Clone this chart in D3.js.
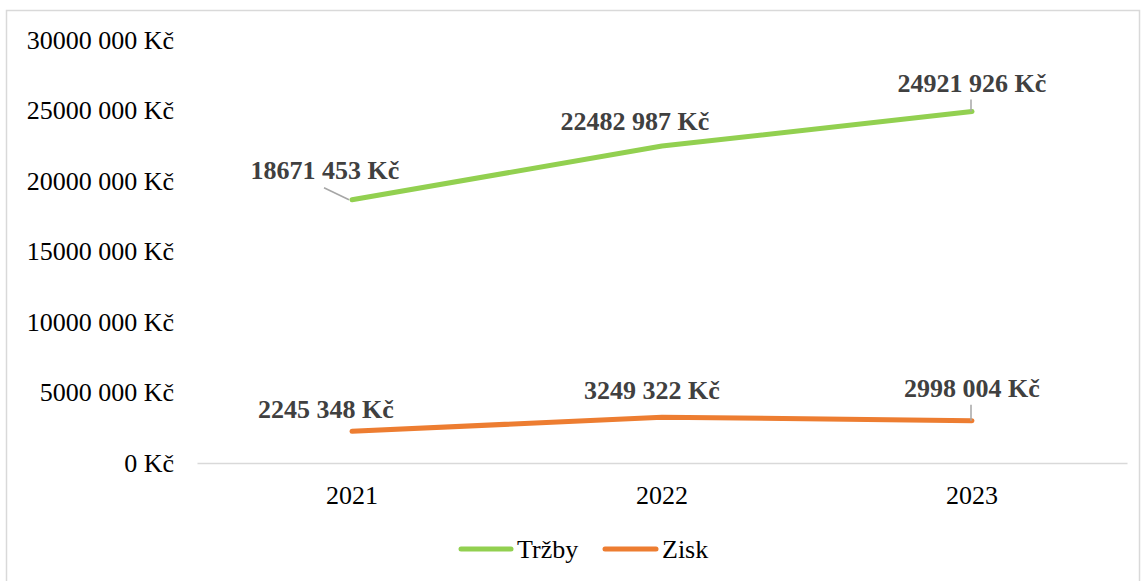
<!DOCTYPE html>
<html><head><meta charset="utf-8">
<script src="https://cdn.jsdelivr.net/npm/d3@7"></script>
<style>body{margin:0;background:#fff}svg{display:block}</style>
</head><body>
<svg id="c" width="1143" height="581"></svg>
<script>
const years = ["2021","2022","2023"];
const trzby = [18671453, 22482987, 24921926];
const zisk = [2245348, 3249322, 2998004];
const yTicks = [0, 5000000, 10000000, 15000000, 20000000, 25000000, 30000000];
const seriesNames = ["Tržby","Zisk"];

// layout: label offsets (dx, dy from point to label centre)
const trzbyLabelOff = [[-27,-30],[-27,-25],[0,-29]];
const ziskLabelOff = [[-26,-22],[-10,-27],[0,-33]];

const fmt = v => {
  const s = String(Math.round(v));
  const head = s.slice(0, s.length - 3), tail = s.slice(-3);
  return (head ? head + " " + tail : tail) + " Kč";
};
const fmtTick = v => v === 0 ? "0 Kč" : fmt(v);

const svg = d3.select("#c");
svg.append("rect").attr("x",6.5).attr("y",10.5).attr("width",1133).attr("height",580)
  .attr("fill","none").attr("stroke","#d9d9d9").attr("stroke-width",1.5);

const x = d3.scaleBand().domain(years).range([197,1127]);
const y = d3.scaleLinear().domain([0,30000000]).range([463,40]);
const font = "'Liberation Serif','Times New Roman',serif";

// y axis
const yAx = svg.append("g").attr("transform","translate(174,0)")
  .call(d3.axisLeft(y).tickValues(yTicks).tickFormat(fmtTick).tickSize(0).tickPadding(0));
yAx.select(".domain").remove();
yAx.selectAll("text").attr("font-family",font).attr("font-size",26).attr("fill","#000");

// x axis
const xAx = svg.append("g").attr("transform","translate(0,463)")
  .call(d3.axisBottom(x).tickSize(0).tickPadding(23));
xAx.select(".domain").attr("stroke","#d9d9d9").attr("stroke-width",1.5);
xAx.selectAll("text").attr("font-family",font).attr("font-size",26).attr("fill","#000");

const line = d3.line().x((d,i)=>x(years[i])+x.bandwidth()/2).y(d=>y(d));
const colors = ["#92d050","#ed7d31"];
const data = [trzby, zisk];
const offs = [trzbyLabelOff, ziskLabelOff];

data.forEach((vals, si) => {
  svg.append("path").datum(vals).attr("d", line).attr("fill","none")
    .attr("stroke", colors[si]).attr("stroke-width",5).attr("stroke-linecap","round").attr("stroke-linejoin","round");
});

data.forEach((vals, si) => {
  vals.forEach((v,i) => {
    const px = x(years[i]) + x.bandwidth()/2, py = y(v);
    const [dx,dy] = offs[si][i];
    const lx = px+dx, ly = py+dy;
    if (si===0 && i===0) {
      svg.append("path").attr("d", `M${lx-1},${ly+18}L${px-3},${py}`).attr("stroke","#a6a6a6").attr("stroke-width",1.5).attr("fill","none");
    }
    if (i===2) {
      svg.append("path").attr("d", `M${px-1},${ly+17}L${px-1},${py}`).attr("stroke","#a6a6a6").attr("stroke-width",1.5).attr("fill","none");
    }
    svg.append("text").attr("x",lx).attr("y",ly).attr("dy","0.35em")
      .attr("text-anchor","middle").attr("font-family",font).attr("font-size",26)
      .attr("font-weight","bold").attr("fill","#404040").text(fmt(v));
  });
});

// legend
const leg = [[459,517],[603,662]];
seriesNames.forEach((n,i)=>{
  svg.append("line").attr("x1",leg[i][0]+2).attr("x2",leg[i][1]-6).attr("y1",549).attr("y2",549)
    .attr("stroke",colors[i]).attr("stroke-width",5).attr("stroke-linecap","round");
  svg.append("text").attr("x",leg[i][1]).attr("y",549).attr("dy","0.35em")
    .attr("font-family",font).attr("font-size",26).attr("fill","#000").text(n);
});
</script>
</body></html>
